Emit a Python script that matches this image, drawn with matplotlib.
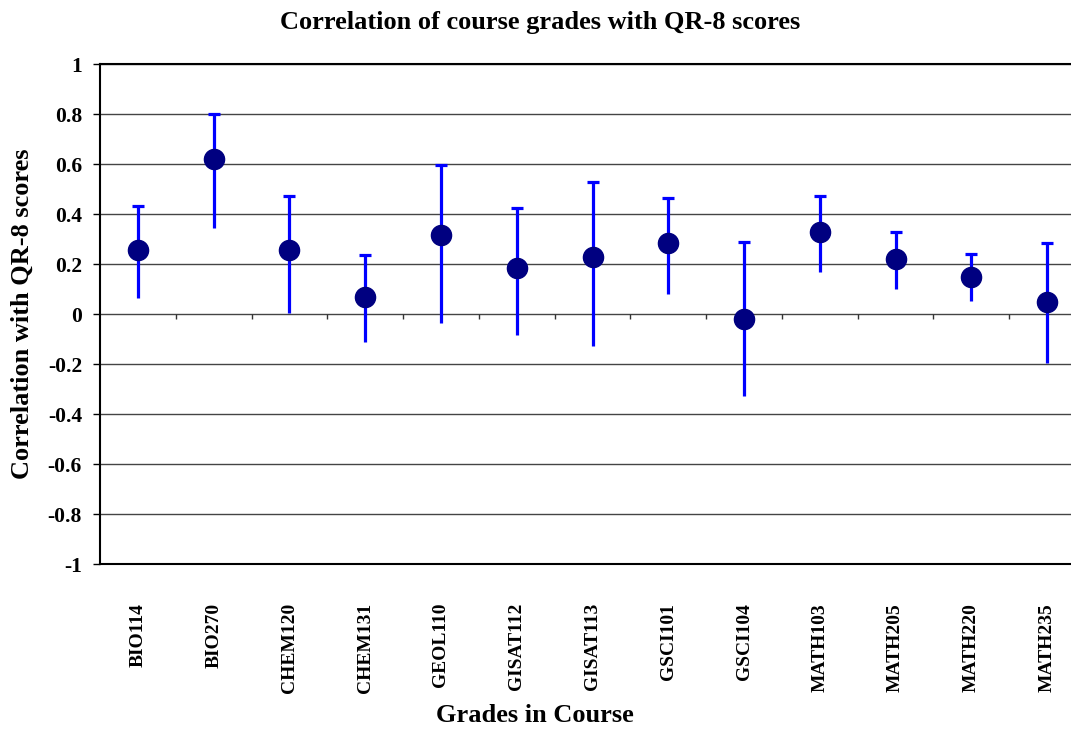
"""Correlation of course grades with QR-8 scores (error bar chart)."""

import numpy as np
import matplotlib
matplotlib.use('Agg')
import matplotlib.pyplot as plt

# Data
courses = ['BIO114', 'BIO270', 'CHEM120', 'CHEM131', 'GEOL110', 'GISAT112',
           'GISAT113', 'GSCI101', 'GSCI104', 'MATH103', 'MATH205', 'MATH220',
           'MATH235']
corr = [0.256, 0.620, 0.256, 0.067, 0.316, 0.183, 0.228, 0.283, -0.019,
        0.329, 0.220, 0.149, 0.048]
upper = [0.432, 0.799, 0.473, 0.237, 0.595, 0.425, 0.529, 0.463, 0.289,
         0.473, 0.328, 0.241, 0.284]
lower = [0.063, 0.343, 0.005, -0.111, -0.035, -0.084, -0.128, 0.080, -0.328,
         0.168, 0.101, 0.053, -0.197]
yticks = [1, 0.8, 0.6, 0.4, 0.2, 0, -0.2, -0.4, -0.6, -0.8, -1]

plt.rcParams['font.family'] = ['Liberation Serif', 'DejaVu Serif']
plt.rcParams['font.weight'] = 'bold'

W, H = 1071, 735
fig = plt.figure(figsize=(W / 100, H / 100), dpi=100)
fig.patch.set_facecolor('white')
ax = fig.add_axes([100 / W, 1 - 564 / H, 985 / W, 500 / H])

x = np.arange(len(courses))
corr = np.array(corr)
up = np.array(upper) - corr
lo = corr - np.array(lower)

# grid
for v in yticks:
    ax.axhline(v, color='#444444', lw=1.0, zorder=1)

# category separator ticks on the zero line
ax.vlines(x[:-1] + 0.5, 0, -0.02, color='#333333', lw=1.0, zorder=2)

# upper whiskers with caps, lower whiskers without
ax.errorbar(x, corr, yerr=[np.zeros_like(up), up], fmt='none', ecolor='#0000FF',
            elinewidth=2.3, capsize=4, capthick=2.3, zorder=3)
ax.errorbar(x, corr, yerr=[lo, np.zeros_like(lo)], fmt='none', ecolor='#0000FF',
            elinewidth=2.3, capsize=0, zorder=3)
ax.plot(x, corr, 'o', color='#000080', markersize=14.5, zorder=4)

ax.set_xlim(-0.5, len(courses) - 0.5)
ax.set_ylim(-1, 1)
ax.set_yticks(yticks)
ax.set_yticklabels([f'{v:g}' for v in yticks], fontsize=15.5, fontweight='bold')
ax.tick_params(axis='y', direction='out', length=5, width=1, pad=8)
ax.set_xticks(x)
ax.set_xticklabels(courses, rotation=90, fontsize=14, fontweight='bold',
                   va='top', ha='center')
ax.tick_params(axis='x', length=0, pad=28)

for s in ax.spines.values():
    s.set_color('black')
    s.set_linewidth(1.5)

ax.set_xlabel('Grades in Course', fontsize=19, fontweight='bold')
ax.xaxis.set_label_coords((535 - 100) / 985, -(716 - 564) / 500, transform=ax.transAxes)
ax.xaxis.label.set_va('center')
ax.set_ylabel('Correlation with QR-8 scores', fontsize=19, fontweight='bold')
ax.yaxis.set_label_coords(-(100 - 22) / 985, 0.5, transform=ax.transAxes)
ax.yaxis.label.set_va('center')
fig.text(540 / W, 1 - 22 / H, 'Correlation of course grades with QR-8 scores',
         ha='center', va='center', fontsize=19, fontweight='bold')

fig.savefig('out.png', dpi=100, facecolor='white')
